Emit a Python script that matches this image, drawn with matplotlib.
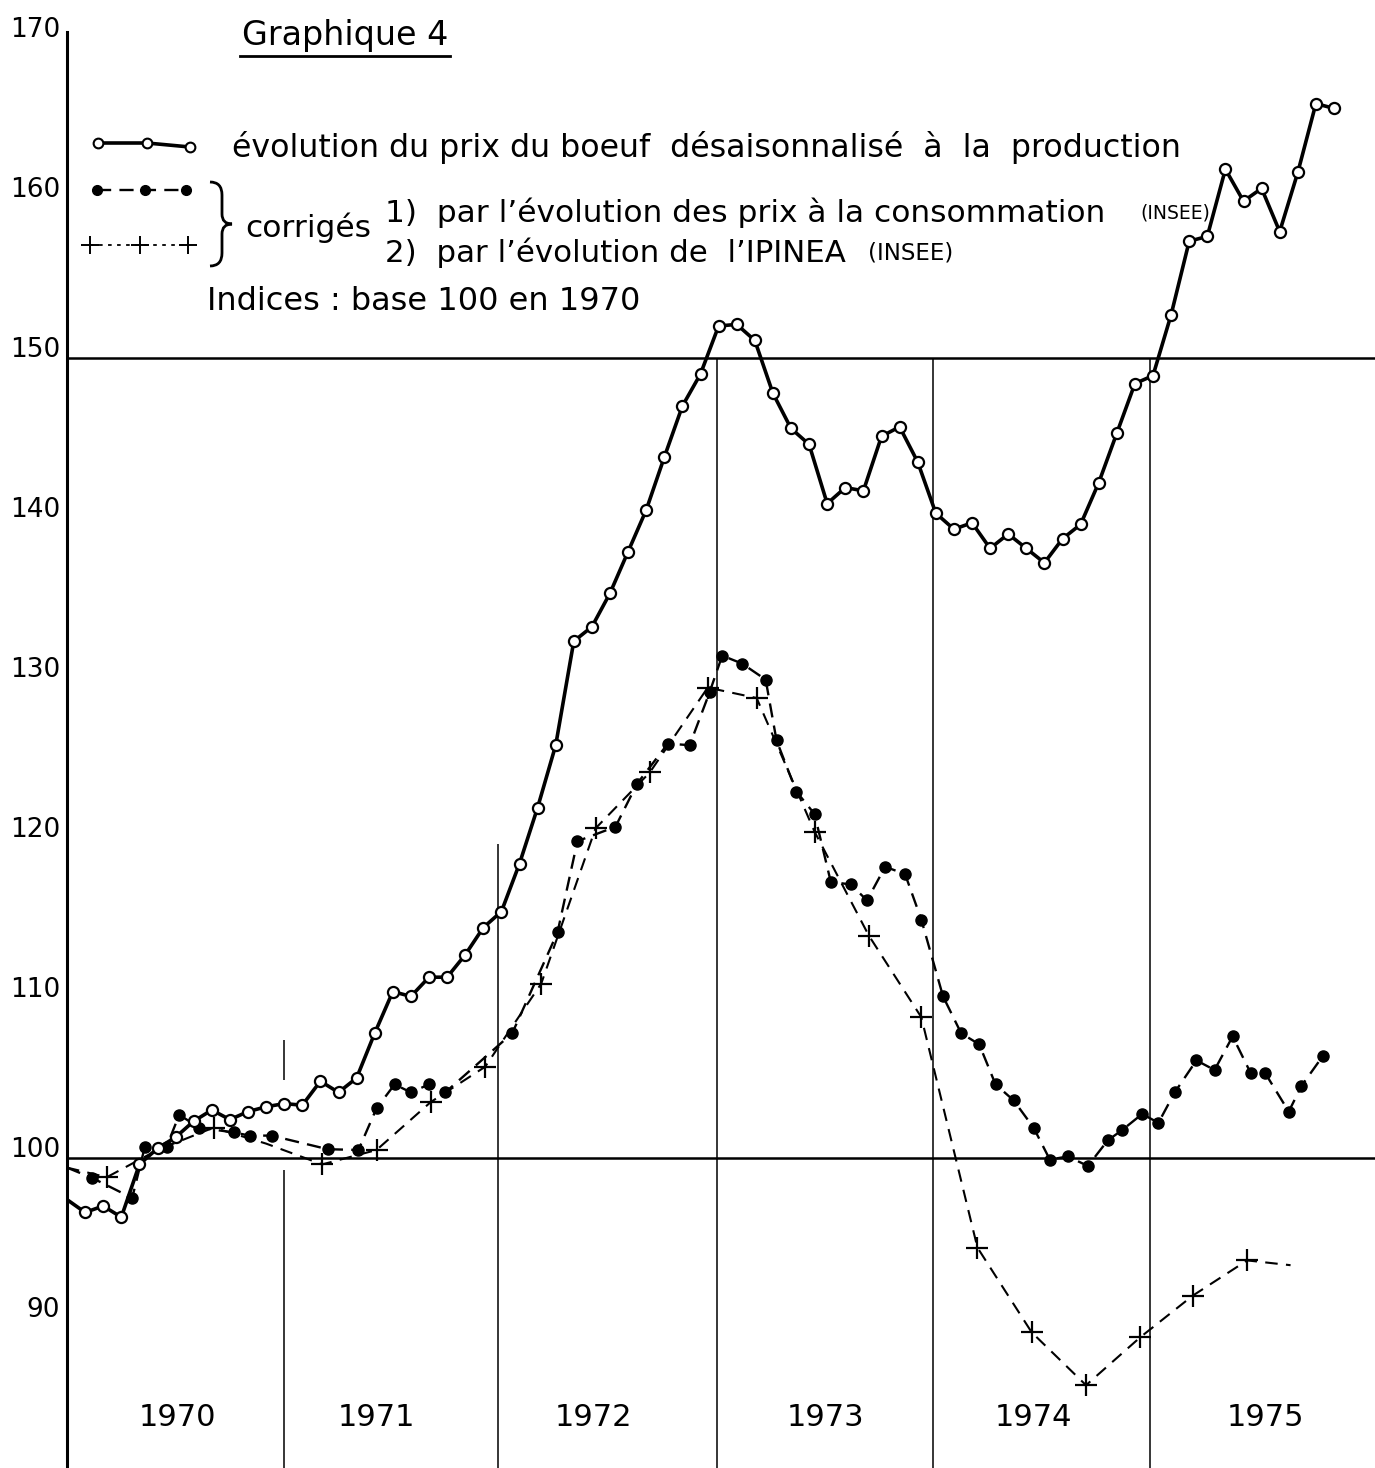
import matplotlib
matplotlib.use("Agg")
import matplotlib.pyplot as plt
from matplotlib.lines import Line2D
from matplotlib.path import Path
from matplotlib.patches import PathPatch
import matplotlib.transforms as mtransforms

# ---------------- data (months counted from January 1970) ----------------
prod_months = list(range(71))
prod_values = [97.4, 96.6, 97.0, 96.3, 99.6, 100.6, 101.3, 102.3, 103.0, 102.4, 102.9, 103.2,
               103.4, 103.3, 104.8, 104.1, 105.0, 107.8, 110.4, 110.1, 111.3, 111.3, 112.7, 114.4,
               115.4, 118.4, 121.9, 125.8, 132.3, 133.2, 135.3, 137.9, 140.5, 143.8, 147.0, 149.0,
               152.0, 152.1, 151.1, 147.8, 145.6, 144.6, 140.9, 141.9, 141.7, 145.1, 145.7, 143.5,
               140.3, 139.3, 139.7, 138.1, 139.0, 138.1, 137.2, 138.7, 139.6, 142.2, 145.3, 148.4,
               148.9, 152.7, 157.3, 157.6, 161.8, 159.8, 160.6, 157.9, 161.6, 165.9, 165.6]

cons_months = [0, 1.4, 3.6, 4.3, 5.5, 6.2, 7.3, 9.2, 10.1, 11.3, 14.4, 16.1, 17.1, 18.1, 19.0,
               20.0, 20.9, 24.6, 27.1, 28.2, 30.3, 31.5, 33.2, 34.4, 35.5, 36.2, 37.3, 38.6, 39.2,
               40.3, 41.3, 42.2, 43.3, 44.2, 45.2, 46.3, 47.2, 48.4, 49.4, 50.4, 51.3, 52.3, 53.4,
               54.3, 55.3, 56.4, 57.5, 58.3, 59.4, 60.3, 61.2, 62.4, 63.4, 64.4, 65.4, 66.2, 67.5,
               68.2, 69.4]
cons_values = [99.4, 98.75, 97.5, 100.7, 100.7, 102.7, 101.9, 101.6, 101.4, 101.4, 100.55, 100.5,
               103.1, 104.6, 104.1, 104.6, 104.1, 107.8, 114.1, 119.8, 120.7, 123.4, 125.9, 125.8,
               129.1, 131.4, 130.9, 129.9, 126.1, 122.9, 121.5, 117.25, 117.1, 116.1, 118.2, 117.75,
               114.9, 110.1, 107.8, 107.1, 104.6, 103.6, 101.9, 99.9, 100.1, 99.5, 101.1, 101.75,
               102.75, 102.2, 104.1, 106.1, 105.5, 107.6, 105.3, 105.3, 102.9, 104.5, 106.4]

ipinea_months = [0, 2.2, 5.0, 8.1, 11.0, 14.1, 17.1, 20.1, 23.1, 26.2, 29.2, 32.2, 35.4, 38.1,
                 41.3, 44.3, 47.2, 50.3, 53.3, 56.3, 59.3, 62.2, 65.2, 67.6]
ipinea_values = [99.4, 98.8, 100.5, 101.9, 100.9, 99.6, 100.5, 103.5, 105.7, 110.9, 120.6, 124.1,
                 129.4, 128.75, 120.4, 113.9, 108.8, 94.4, 89.1, 85.8, 88.8, 91.4, 93.6, 93.3]
ipinea_marked = [1, 3, 5, 6, 7, 8, 9, 10, 11, 12, 13, 14, 15, 16, 17, 18, 19, 20, 21, 22]

ytick_values = [90, 100, 110, 120, 130, 140, 150, 160, 170]
year_labels = ["1970", "1971", "1972", "1973", "1974", "1975"]
year_label_pos = [6.1, 17.1, 29.1, 41.9, 53.4, 66.2]

# ---------------- figure ----------------
W, H = 1375, 1468
fig = plt.figure(figsize=(W / 100, H / 100), dpi=100)
fig.patch.set_facecolor("white")
FONT = "DejaVu Sans"

def fx(x):
    return x / W

def fy(y):
    return 1 - y / H

PX_PER_MONTH = 18.1
ax = fig.add_axes([67 / W, 0, (W - 67) / W, (H - 32) / H])
ax.set_xlim(0, (W - 67) / PX_PER_MONTH)
ymin, ymax = 100 - (H - 1158) / 16, 100 + (1158 - 32) / 16
ax.set_ylim(ymin, ymax)
for s in ["top", "right", "bottom"]:
    ax.spines[s].set_visible(False)
ax.spines["left"].set_linewidth(2.2)
ax.set_xticks([])
ax.set_yticks([])
ax.patch.set_alpha(0)

# reference lines
ax.axhline(100, color="black", lw=1.8, zorder=1)
ax.axhline(150, color="black", lw=1.8, zorder=1)
ax.vlines([35.9, 47.85, 59.85], ymin, 150, color="black", lw=1.1, zorder=1)
ax.vlines(12.0, ymin, 99.25, color="black", lw=1.1, zorder=1)
ax.vlines(12.0, 104.9, 107.4, color="black", lw=1.1, zorder=1)
ax.vlines(23.8, ymin, 119.6, color="black", lw=1.1, zorder=1)

# series
ax.plot(prod_months, prod_values, color="black", lw=2.6, marker="o", ms=8,
        mfc="white", mec="black", mew=1.6, markevery=list(range(1, len(prod_months))), zorder=4)
ax.plot(cons_months, cons_values, color="black", lw=1.7, ls=(0, (6, 3.5)), marker="o", ms=8,
        mfc="black", mec="black", markevery=list(range(1, len(cons_months))), zorder=3)
ax.plot(ipinea_months, ipinea_values, color="black", lw=1.5, ls=(0, (6, 4)), marker="+", ms=16,
        mew=1.6, markevery=ipinea_marked, zorder=3)

# y tick labels (written slightly above their level, as in the original)
off = mtransforms.ScaledTranslation(0, 8 / 100, fig.dpi_scale_trans)
for v in ytick_values:
    ax.text(-7 / (W - 67), v, str(v), transform=ax.get_yaxis_transform() + off,
            ha="right", va="center", fontsize=19, family=FONT)

# year labels
for lab, pos in zip(year_labels, year_label_pos):
    ax.text(pos, 83.75, lab, ha="center", va="center", fontsize=22, family=FONT)

# title
fig.text(fx(345), fy(35), "Graphique 4", ha="center", va="center", fontsize=24, family=FONT)
fig.add_artist(Line2D([fx(240), fx(450)], [fy(56), fy(56)], color="black", lw=2,
                      transform=fig.transFigure))

# legend samples
fig.add_artist(Line2D([fx(98), fx(147), fx(190)], [fy(143), fy(143), fy(147)], color="black",
                      lw=2.6, marker="o", ms=7, mfc="white", mec="black", mew=1.5,
                      transform=fig.transFigure))
fig.add_artist(Line2D([fx(97), fx(145), fx(186)], [fy(190), fy(190), fy(190)], color="black",
                      lw=1.7, ls=(0, (6, 3.5)), marker="o", ms=7, mfc="black",
                      transform=fig.transFigure))
fig.add_artist(Line2D([fx(90), fx(140), fx(188)], [fy(245), fy(245), fy(245)], color="black",
                      lw=1.3, ls=(0, (2, 3)), marker="+", ms=13, mew=1.4,
                      transform=fig.transFigure))

# brace
bx = 222
verts = [(fx(210), fy(182)),
         (fx(bx), fy(182)), (fx(bx), fy(195)),
         (fx(bx), fy(214)),
         (fx(bx), fy(224)), (fx(bx + 10), fy(224)),
         (fx(bx), fy(224)), (fx(bx), fy(234)),
         (fx(bx), fy(253)),
         (fx(bx), fy(266)), (fx(210), fy(266))]
codes = [Path.MOVETO,
         Path.CURVE3, Path.CURVE3,
         Path.LINETO,
         Path.CURVE3, Path.CURVE3,
         Path.CURVE3, Path.CURVE3,
         Path.LINETO,
         Path.CURVE3, Path.CURVE3]
fig.add_artist(PathPatch(Path(verts, codes), fill=False, lw=2, edgecolor="black",
                         transform=fig.transFigure))

# legend texts
fig.text(fx(232), fy(147), "évolution du prix du boeuf  désaisonnalisé  à  la  production",
         ha="left", va="center", fontsize=22.8, family=FONT)
fig.text(fx(245), fy(228), "corrigés", ha="left", va="center", fontsize=22.5, family=FONT)
fig.text(fx(385), fy(213), "1)  par l’évolution des prix à la consommation", ha="left",
         va="center", fontsize=22.5, family=FONT)
fig.text(fx(1140), fy(213), "(INSEE)", ha="left", va="center", fontsize=13.5, family=FONT)
fig.text(fx(385), fy(253), "2)  par l’évolution de  l’IPINEA", ha="left", va="center",
         fontsize=22.2, family=FONT)
fig.text(fx(868), fy(253), "(INSEE)", ha="left", va="center", fontsize=16.5, family=FONT)
fig.text(fx(207), fy(302), "Indices : base 100 en 1970", ha="left", va="center", fontsize=23,
         family=FONT)

fig.savefig("out.png", dpi=100, facecolor="white")
